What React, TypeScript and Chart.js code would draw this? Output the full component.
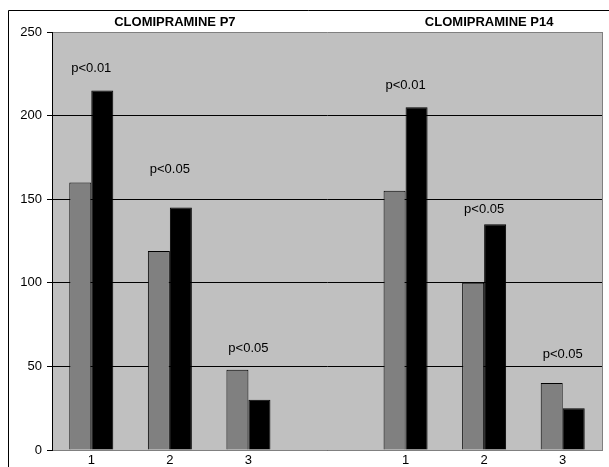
import React, { useEffect, useRef } from "react";
import { Chart, registerables } from "chart.js";

Chart.register(...registerables);

const categories = ["1", "2", "3", "", "1", "2", "3"];
const greyValues = [160, 119, 48, null, 155, 100, 40];
const blackValues = [215, 145, 30, null, 205, 135, 25];
const pLabels = ["p<0.01", "p<0.05", "p<0.05", "", "p<0.01", "p<0.05", "p<0.05"];
const pLabelLevels = [228, 168, 61, null, 218, 144, 57];
const groupTitles = ["CLOMIPRAMINE P7", "CLOMIPRAMINE P14"];
const groupTitleCategory = [1, 5];
const yTicks = [0, 50, 100, 150, 200, 250];

const FONT = "'Liberation Sans', Arial, sans-serif";

const decorPlugin = {
  id: "decor",
  beforeDraw(chart: any) {
    const { ctx, chartArea } = chart;
    ctx.save();
    ctx.fillStyle = "#ffffff";
    ctx.fillRect(0, 0, chart.width, chart.height);
    ctx.fillStyle = "#c0c0c0";
    ctx.fillRect(chartArea.left, chartArea.top, chartArea.right - chartArea.left, chartArea.bottom - chartArea.top);
    ctx.restore();
  },
  afterDatasetsDraw(chart: any) {
    const { ctx, chartArea } = chart;
    const xs = chart.scales.x;
    const ys = chart.scales.y;
    ctx.save();
    ctx.strokeStyle = "#808080";
    ctx.lineWidth = 1;
    ctx.beginPath();
    ctx.moveTo(Math.round(chartArea.right) + 0.5, chartArea.top);
    ctx.lineTo(Math.round(chartArea.right) + 0.5, chartArea.bottom);
    ctx.stroke();
    ctx.strokeStyle = "#000000";
    ctx.beginPath();
    ctx.moveTo(8.5, chart.height);
    ctx.lineTo(8.5, 10.5);
    ctx.lineTo(chart.width, 10.5);
    ctx.stroke();
    ctx.fillStyle = "#000000";
    ctx.font = `13px ${FONT}`;
    ctx.textAlign = "center";
    ctx.textBaseline = "middle";
    pLabels.forEach((t, i) => {
      const lv = pLabelLevels[i];
      if (!t || lv == null) return;
      ctx.fillText(t, xs.getPixelForValue(i), ys.getPixelForValue(lv));
    });
    ctx.font = `bold 13px ${FONT}`;
    groupTitles.forEach((t, i) => {
      ctx.fillText(t, xs.getPixelForValue(groupTitleCategory[i]) + 5, 22);
    });
    ctx.restore();
  },
};

export default function App() {
  const ref = useRef<HTMLCanvasElement | null>(null);
  useEffect(() => {
    if (!ref.current) return;
    const chart = new Chart(ref.current, {
      type: "bar",
      data: {
        labels: categories,
        datasets: [
          {
            data: greyValues,
            backgroundColor: "#808080",
            borderColor: "#000000",
            borderWidth: 1,
            categoryPercentage: 0.56,
            barPercentage: 1,
          },
          {
            data: blackValues,
            backgroundColor: "#000000",
            borderColor: "#000000",
            borderWidth: 1,
            categoryPercentage: 0.56,
            barPercentage: 1,
          },
        ],
      },
      options: {
        animation: false,
        responsive: false,
        devicePixelRatio: 1,
        layout: { padding: { left: 0, top: 32, right: 7, bottom: 0 } },
        plugins: { legend: { display: false }, tooltip: { enabled: false }, title: { display: false } },
        scales: {
          x: {
            grid: { display: false, drawTicks: false, tickLength: 0 },
            border: { display: true, color: "#808080", width: 1 },
            ticks: { color: "#000000", font: { family: FONT, size: 13 }, padding: 3, maxRotation: 0 },
            afterFit(scale: any) {
              scale.height = 17;
            },
          },
          y: {
            min: 0,
            max: 250,
            afterBuildTicks(scale: any) {
              scale.ticks = yTicks.map((v) => ({ value: v }));
            },
            grid: {
              color: (c: any) => (c.tick && c.tick.value === 250 ? "#808080" : "#000000"),
              tickColor: "#000000",
              tickLength: 5,
              drawTicks: true,
            },
            border: { display: true, color: "#000000", width: 1 },
            ticks: { color: "#000000", font: { family: FONT, size: 13 }, padding: 5 },
            afterFit(scale: any) {
              scale.width = 52;
            },
          },
        },
      },
      plugins: [decorPlugin],
    });
    return () => chart.destroy();
  }, []);
  return (
    <div style={{ position: "fixed", left: 0, top: 0, width: 609, height: 467 }}>
      <canvas ref={ref} width={609} height={467} style={{ display: "block", width: 609, height: 467 }} />
    </div>
  );
}
